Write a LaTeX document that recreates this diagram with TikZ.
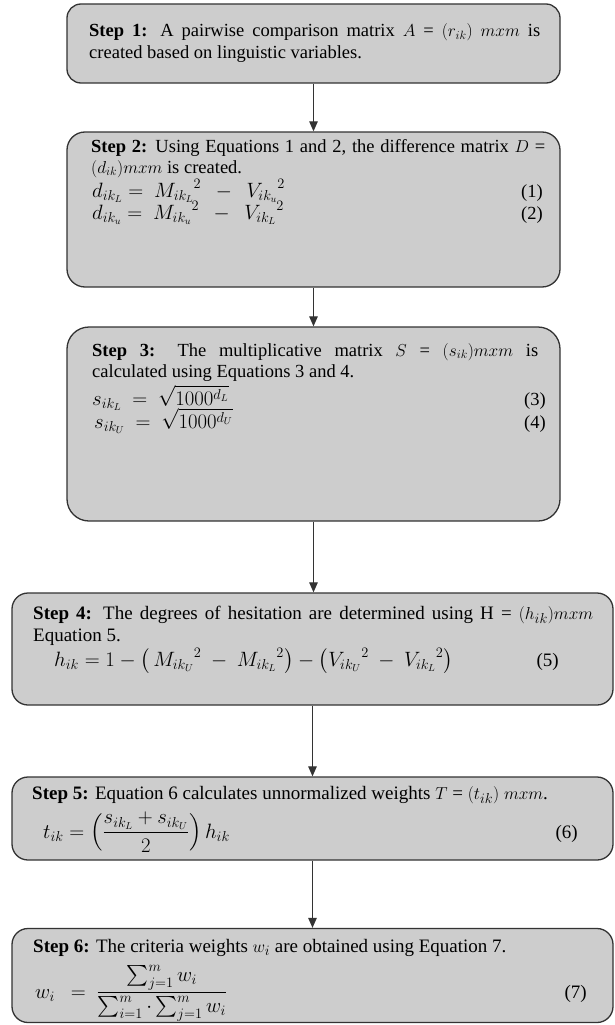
\documentclass[tikz,border=0pt]{standalone}
\usepackage{amsmath}
\usepackage{fontspec}
\setmainfont{Liberation Serif}
\usetikzlibrary{arrows.meta}
\definecolor{boxfill}{HTML}{CDCDCD}
\definecolor{boxline}{HTML}{333333}
\begin{document}
\begin{tikzpicture}[x=1pt,y=-1pt,
  stepbox/.style={draw=boxline, fill=boxfill, line width=1.3pt, rounded corners=16pt, inner sep=0pt},
  txt/.style={inner sep=0pt, anchor=base west, font=\fontsize{18.5}{21}\selectfont},
  num/.style={inner sep=0pt, anchor=base east, font=\fontsize{18.5}{21}\selectfont},
  eqn/.style={txt, font=\fontsize{20}{22}\selectfont},
  txtb/.style={txt, font=\fontsize{19}{22}\selectfont},
  numb/.style={num, font=\fontsize{19}{22}\selectfont},
  conn/.style={draw=boxline, line width=1.1pt, -{Triangle[length=10pt,width=8.5pt]}}]
\useasboundingbox (0,0) rectangle (615,1025);
% boxes
\node[stepbox, minimum width=493pt, minimum height=79pt, rounded corners=14pt] (b1) at (313.5,43.5) {};
\node[stepbox, minimum width=493pt, minimum height=155pt, rounded corners=18pt] (b2) at (313.5,209.5) {};
\node[stepbox, minimum width=493pt, minimum height=194pt, rounded corners=22pt] (b3) at (313.5,424) {};
\node[stepbox, minimum width=601pt, minimum height=112pt] (b4) at (312.5,649) {};
\node[stepbox, minimum width=601pt, minimum height=83pt] (b5) at (312.5,818.5) {};
\node[stepbox, minimum width=601pt, minimum height=94pt] (b6) at (312.5,975.5) {};
% connectors
\draw[conn] (b1.south) -- (b2.north);
\draw[conn] (b2.south) -- (b3.north);
\draw[conn] (b3.south) -- (b3.south |- b4.north);
\draw[conn] (b4.south) -- (b5.north);
\draw[conn] (b5.south) -- (b6.north);
% step 1
\node[txt] (t1a) at (89,37) {\makebox[451pt][s]{\textbf{Step 1:} A pairwise comparison matrix $A$ = $(r_{ik})$ $mxm$ is}};
\node[txt] (t1b) at (89,59) {created based on linguistic variables.};
% step 2
\node[txt] (t2a) at (91,152) {\makebox[454pt][s]{\textbf{Step 2:} Using Equations 1 and 2, the difference matrix $D$ =}};
\node[txt] (t2b) at (91,173) {$(d_{ik})mxm$ is created.};
\node[eqn] (e1) at (92,197) {$d_{ik_L} =\ {M_{ik_L}}^{2}\ \ -\ \ {V_{ik_u}}^{2}$};
\node[num] (n1) at (543,197) {(1)};
\node[eqn] (e2) at (92,219) {$d_{ik_u} =\ {M_{ik_u}}^{2}\ \ -\ \ {V_{ik_L}}^{2}$};
\node[num] (n2) at (543,219) {(2)};
% step 3
\node[txt] (t3a) at (92,356) {\makebox[446pt][s]{\textbf{Step 3:} The multiplicative matrix $S$ = $(s_{ik})mxm$ is}};
\node[txt] (t3b) at (92,377) {calculated using Equations 3 and 4.};
\node[eqn] (e3) at (92,405) {$s_{ik_L}\ =\ \sqrt{1000^{d_L}}$};
\node[num] (n3) at (546,405) {(3)};
\node[eqn] (e4) at (94,428) {$s_{ik_U}\ =\ \sqrt{1000^{d_U}}$};
\node[num] (n4) at (546,428) {(4)};
% step 4
\node[txtb] (t4a) at (33,619) {\makebox[560pt][s]{\textbf{Step 4:} The degrees of hesitation are determined using H = $(h_{ik})mxm$}};
\node[txtb] (t4b) at (33,641) {Equation 5.};
\node[eqn] (e5) at (54,666) {$h_{ik} = 1 - \bigl(\,{M_{ik_U}}^{2}\ -\ {M_{ik_L}}^{2}\bigr) - \bigl({V_{ik_U}}^{2}\ -\ {V_{ik_L}}^{2}\bigr)$};
\node[numb] (n5) at (559,666) {(5)};
% step 5
\node[txtb] (t5a) at (32,799) {\textbf{Step 5:} Equation 6 calculates unnormalized weights $T$ = $(t_{ik})$ $mxm$.};
\node[eqn] (e6) at (43,838) {$t_{ik} = \left(\dfrac{s_{ik_L} + s_{ik_U}}{2}\right) h_{ik}$};
\node[numb] (n6) at (578,838) {(6)};
% step 6
\node[txtb] (t6a) at (33,952) {\textbf{Step 6:} The criteria weights $w_i$ are obtained using Equation 7.};
\node[eqn] (e7) at (35,998) {$w_i\ \ =\ \dfrac{\sum_{j=1}^{m} w_i}{\sum_{i=1}^{m}\cdot\sum_{j=1}^{m} w_i}$};
\node[numb] (n7) at (587,998) {(7)};
\end{tikzpicture}
\end{document}
